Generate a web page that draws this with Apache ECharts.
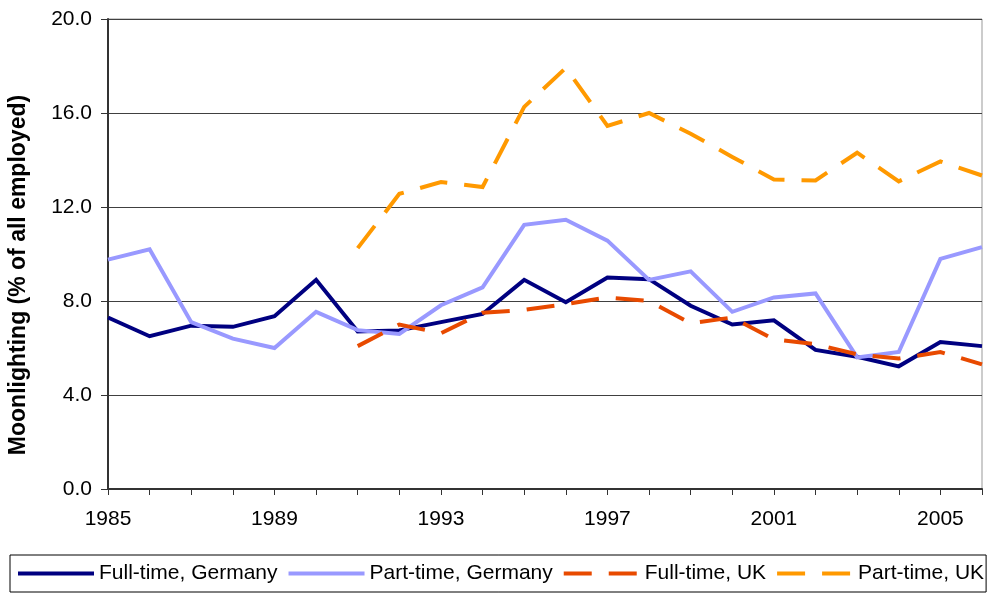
<!DOCTYPE html>
<html>
<head>
<meta charset="utf-8">
<title>Moonlighting</title>
<script src="https://cdn.jsdelivr.net/npm/echarts@6/dist/echarts.min.js"></script>
<style>
  html, body { margin: 0; padding: 0; background: #fff; }
  #chart { width: 991px; height: 594px; }
</style>
</head>
<body>
<div id="chart"></div>
<script>
// 年份
const years = ['1985', '1986', '1987', '1988', '1989', '1990', '1991', '1992', '1993', '1994', '1995',
  '1996', '1997', '1998', '1999', '2000', '2001', '2002', '2003', '2004', '2005', '2006']

// 各序列数值 (% of all employed)
const fullTimeGermany = [7.3, 6.5, 6.95, 6.9, 7.35, 8.9, 6.7, 6.75, 7.1, 7.45, 8.9,
  7.95, 9.0, 8.93, 7.8, 7.0, 7.18, 5.92, 5.63, 5.22, 6.25, 6.08]
const partTimeGermany = [9.76, 10.2, 7.1, 6.4, 6.0, 7.54, 6.76, 6.6, 7.82, 8.58, 11.24,
  11.46, 10.57, 8.9, 9.26, 7.54, 8.15, 8.32, 5.6, 5.83, 9.79, 10.29]
const fullTimeUK = [null, null, null, null, null, null, 6.08, 7.0, 6.63, 7.5, 7.62,
  7.87, 8.15, 8.0, 7.05, 7.3, 6.37, 6.16, 5.73, 5.55, 5.83, 5.3]
const partTimeUK = [null, null, null, null, null, null, 10.25, 12.56, 13.06, 12.85, 16.26,
  17.92, 15.45, 16.0, 15.12, 14.13, 13.17, 13.13, 14.31, 13.09, 13.94, 13.34]

const font = 'Liberation Sans, Arial, sans-serif'
const chart = echarts.init(document.getElementById('chart'))

function lineSeries(name, data, color, dash) {
  return {
    name: name,
    type: 'line',
    data: data,
    symbol: 'none',
    connectNulls: false,
    lineStyle: { color: color, width: 4, type: dash || 'solid', cap: 'butt', join: 'miter' },
    itemStyle: { color: color }
  }
}

const option = {
  animation: false,
  textStyle: { fontFamily: font },
  grid: {
    left: 108, right: 9, top: 19, bottom: 105,
    show: true,
    borderColor: '#999',
    borderWidth: 1
  },
  legend: {
    left: 10,
    top: 555,
    width: 978,
    padding: [8, 2, 8, 6],
    borderColor: '#000',
    borderWidth: 1,
    itemGap: 9,
    itemWidth: 76,
    itemHeight: 14,
    // 只画线，不画圆点
    itemStyle: { opacity: 0 },
    lineStyle: { width: 4, type: 'inherit', opacity: 1 },
    textStyle: { fontSize: 21, color: '#000', fontFamily: font },
    data: ['Full-time, Germany', 'Part-time, Germany', 'Full-time, UK', 'Part-time, UK']
  },
  graphic: [{
    type: 'text',
    x: 19,
    y: 275,
    rotation: Math.PI / 2,
    style: {
      text: 'Moonlighting (% of all employed)',
      font: 'bold 23px ' + font,
      fill: '#000',
      align: 'center',
      verticalAlign: 'middle'
    }
  }],
  xAxis: {
    type: 'category',
    data: years,
    boundaryGap: false,
    axisLine: { lineStyle: { color: '#333', width: 2 } },
    axisTick: { interval: 0, length: 6, lineStyle: { color: '#333', width: 1 } },
    axisLabel: { interval: 3, fontSize: 21, color: '#000', margin: 20 },
    splitLine: { show: false }
  },
  yAxis: {
    type: 'value',
    min: 0,
    max: 20,
    interval: 4,
    axisLine: { show: true, lineStyle: { color: '#333', width: 2 } },
    axisTick: { show: true, length: 7, lineStyle: { color: '#333', width: 1 } },
    axisLabel: {
      fontSize: 21, color: '#000', margin: 16,
      formatter: v => v.toFixed(1)
    },
    splitLine: { lineStyle: { color: '#404040', width: 1 } }
  },
  series: [
    lineSeries('Full-time, Germany', fullTimeGermany, '#000080'),
    lineSeries('Part-time, Germany', partTimeGermany, '#9999ff'),
    lineSeries('Full-time, UK', fullTimeUK, '#e84a00', [28, 17]),
    lineSeries('Part-time, UK', partTimeUK, '#ff9900', [28, 17])
  ]
}

chart.setOption(option)
</script>
</body>
</html>
